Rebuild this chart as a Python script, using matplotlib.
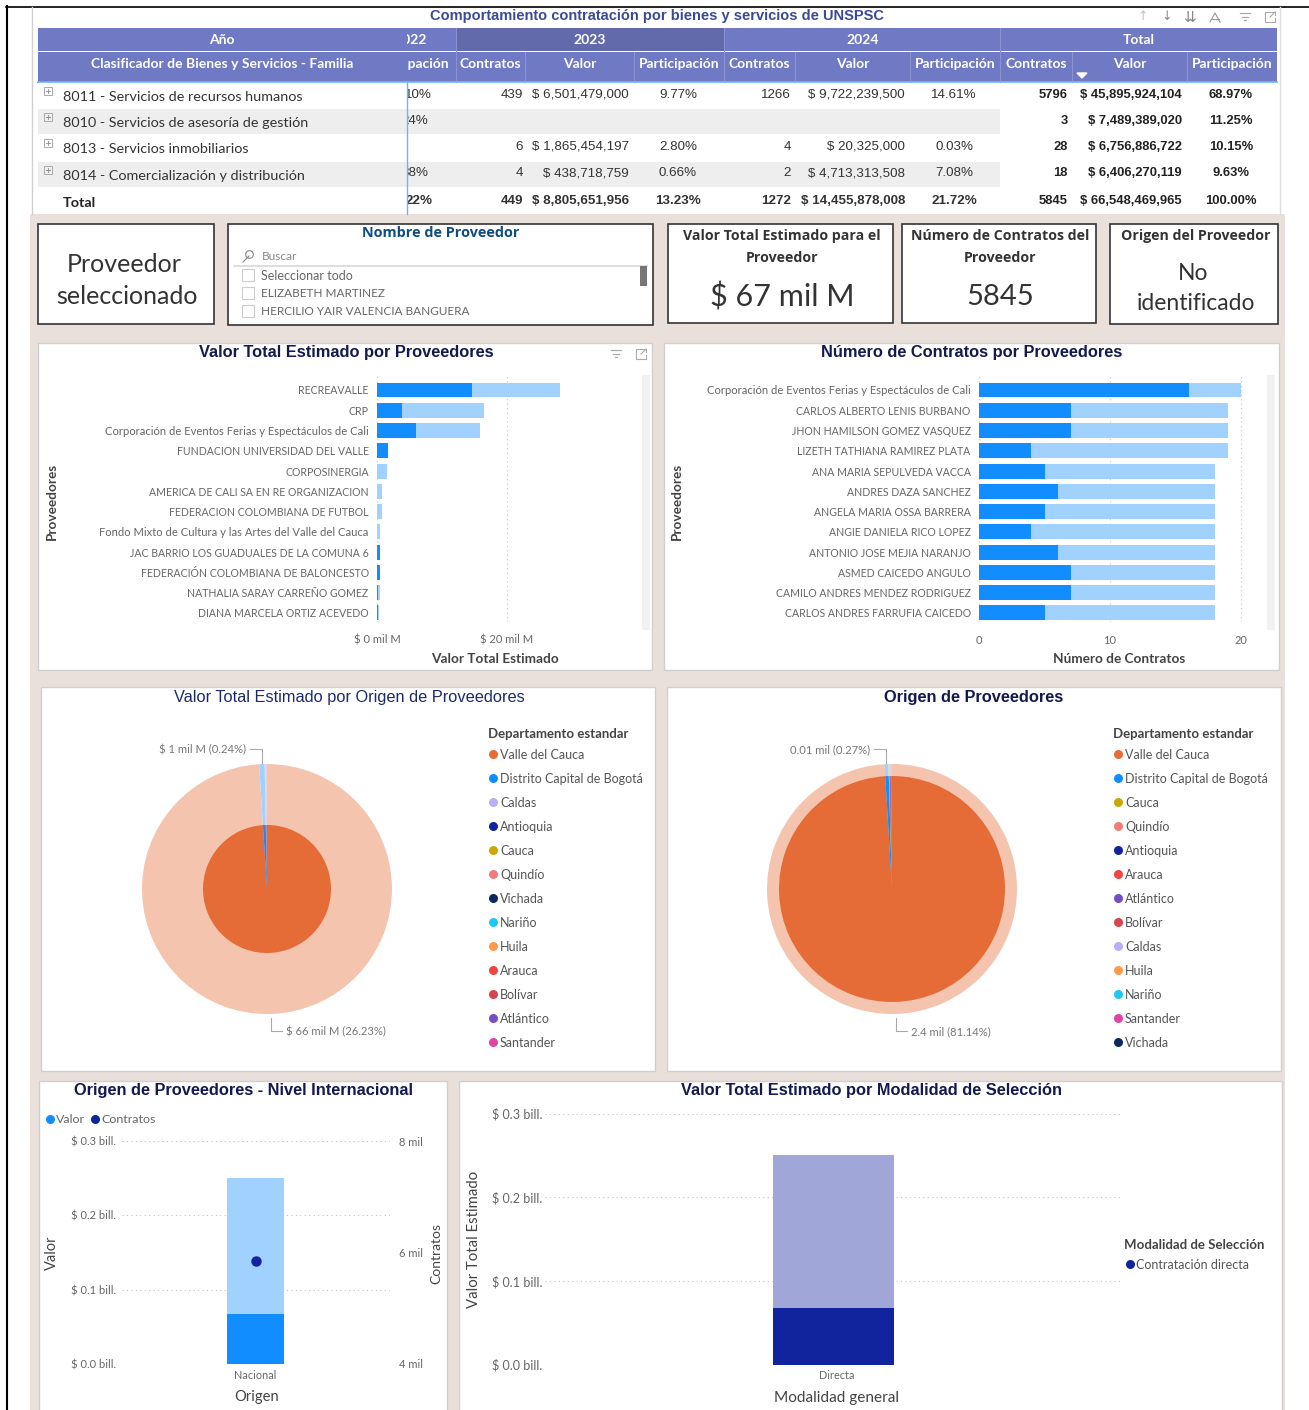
import matplotlib
matplotlib.use("Agg")
import matplotlib.pyplot as plt
from matplotlib.patches import Rectangle
from matplotlib.colors import to_rgb

W, H = 1309, 1410
SANS = ["Lato", "DejaVu Sans"]
ARIAL = ["Liberation Sans", "DejaVu Sans"]
OPEN = ["Open Sans", "DejaVu Sans"]
plt.rcParams["font.family"] = SANS

BLUE = "#118DFF"
LIGHT = "#A0D1FF"
NAVY = "#12239E"
BG = "#E9E0DB"
TITLE = "#14194F"
GREY = "#666666"

# table data
anios = ["2023", "2024", "Total"]
sub_cols = ["Contratos", "Valor", "Participación"]
familias = ["8011 - Servicios de recursos humanos", "8010 - Servicios de asesoría de gestión",
            "8013 - Servicios inmobiliarios", "8014 - Comercialización y distribución", "Total"]
part_2022 = ["10%", "24%", "", "38%", "22%"]
contratos_23 = ["439", "", "6", "4", "449"]
valor_23 = ["$ 6,501,479,000", "", "$ 1,865,454,197", "$ 438,718,759", "$ 8,805,651,956"]
part_23 = ["9.77%", "", "2.80%", "0.66%", "13.23%"]
contratos_24 = ["1266", "", "4", "2", "1272"]
valor_24 = ["$ 9,722,239,500", "", "$ 20,325,000", "$ 4,713,313,508", "$ 14,455,878,008"]
part_24 = ["14.61%", "", "0.03%", "7.08%", "21.72%"]
contratos_tot = ["5796", "3", "28", "18", "5845"]
valor_tot = ["$ 45,895,924,104", "$ 7,489,389,020", "$ 6,756,886,722", "$ 6,406,270,119", "$ 66,548,469,965"]
part_tot = ["68.97%", "11.25%", "10.15%", "9.63%", "100.00%"]

# bars, valor por proveedor (mil M)
prov_valor = ["RECREAVALLE", "CRP", "Corporación de Eventos Ferias y Espectáculos de Cali",
              "FUNDACION UNIVERSIDAD DEL VALLE", "CORPOSINERGIA", "AMERICA DE CALI SA EN RE ORGANIZACION",
              "FEDERACION COLOMBIANA DE FUTBOL", "Fondo Mixto de Cultura y las Artes del Valle del Cauca",
              "JAC BARRIO LOS GUADUALES DE LA COMUNA 6", "FEDERACIÓN COLOMBIANA DE BALONCESTO",
              "NATHALIA SARAY CARREÑO GOMEZ", "DIANA MARCELA ORTIZ ACEVEDO"]
valor_oscuro = [14.7, 3.9, 6.0, 1.65, 0, 0, 0, 0, 0.4, 0.5, 0.1, 0.1]
valor_claro = [13.5, 12.6, 9.8, 0, 1.55, 0.8, 0.7, 0.5, 0, 0, 0.3, 0.2]

# bars, contratos por proveedor
prov_contratos = ["Corporación de Eventos Ferias y Espectáculos de Cali", "CARLOS ALBERTO LENIS BURBANO",
                  "JHON HAMILSON GOMEZ VASQUEZ", "LIZETH TATHIANA RAMIREZ PLATA", "ANA MARIA SEPULVEDA VACCA",
                  "ANDRES DAZA SANCHEZ", "ANGELA MARIA OSSA BARRERA", "ANGIE DANIELA RICO LOPEZ",
                  "ANTONIO JOSE MEJIA NARANJO", "ASMED CAICEDO ANGULO", "CAMILO ANDRES MENDEZ RODRIGUEZ",
                  "CARLOS ANDRES FARRUFIA CAICEDO"]
contratos_oscuro = [16, 7, 7, 4, 5, 6, 5, 4, 6, 7, 7, 5]
contratos_claro = [4, 12, 12, 15, 13, 12, 13, 14, 12, 11, 11, 13]

# pies
dep1 = ["Valle del Cauca", "Distrito Capital de Bogotá", "Caldas", "Antioquia", "Cauca", "Quindío", "Vichada",
        "Nariño", "Huila", "Arauca", "Bolívar", "Atlántico", "Santander"]
col1 = ["#E66C37", "#118DFF", "#B9AFF5", "#12239E", "#C9A800", "#F27C7C", "#0B2A5B",
        "#1EC8F0", "#FF9A4D", "#F04545", "#D64550", "#744EC2", "#E044A7"]
val1 = [100, 0.72, 0.08, 0.03, 0.03, 0.02, 0.02, 0.02, 0.02, 0.02, 0.02, 0.02, 0.02]
dep2 = ["Valle del Cauca", "Distrito Capital de Bogotá", "Cauca", "Quindío", "Antioquia", "Arauca", "Atlántico",
        "Bolívar", "Caldas", "Huila", "Nariño", "Santander", "Vichada"]
col2 = ["#E66C37", "#118DFF", "#C9A800", "#F27C7C", "#12239E", "#F04545", "#744EC2",
        "#D64550", "#B9AFF5", "#FF9A4D", "#1EC8F0", "#E044A7", "#0B2A5B"]
val2 = [100, 0.5, 0.1, 0.06, 0.06, 0.03, 0.03, 0.03, 0.03, 0.03, 0.03, 0.03, 0.03]

# bottom charts
origen = ["Nacional"]
origen_oscuro = [0.067]
origen_claro = [0.183]
origen_contratos = [5845]
modalidad = ["Directa"]
modalidad_oscuro = [0.067]
modalidad_claro = [0.183]

fig = plt.figure(figsize=(W / 100, H / 100), dpi=100, facecolor="white")
bg = fig.add_axes([0, 0, 1, 1])
bg.set_xlim(0, W)
bg.set_ylim(H, 0)
bg.axis("off")


def rect(x0, y0, x1, y1, fc="white", ec="none", lw=1, z=1):
    bg.add_patch(Rectangle((x0, y0), x1 - x0, y1 - y0, fc=fc, ec=ec, lw=lw, zorder=z))


def txt(x, y, s, size=8, color=GREY, ha="center", weight="normal", fam=SANS, rot=0, clip=False):
    t = bg.text(x, y + (0 if rot else 1), s, fontsize=size, color=color, ha=ha, va="center", fontweight=weight,
                family=fam, rotation=rot, zorder=5)
    if clip:
        t.set_clip_path(Rectangle((407, 0), 1000, H, transform=bg.transData))
        t.set_clip_on(True)
    return t


def panel_axes(x0, y0, x1, y1):
    ax = fig.add_axes([x0 / W, 1 - y1 / H, (x1 - x0) / W, (y1 - y0) / H])
    ax.patch.set_alpha(0)
    for s in ax.spines.values():
        s.set_visible(False)
    return ax


def tint(c, a=0.4):
    return tuple(a * v + (1 - a) for v in to_rgb(c))


def filter_icon(x, y):
    for i, half in enumerate([5, 3, 1]):
        bg.plot([x - half, x + half], [y - 4 + i * 3.5] * 2, color="#AAAAAA", lw=0.9, zorder=5)


def focus_icon(x, y):
    bg.plot([x - 1, x - 5, x - 5, x + 5, x + 5], [y - 5, y - 5, y + 5, y + 5, y + 1], color="#AAAAAA", lw=0.8, zorder=5)
    bg.plot([x, x + 5, x + 5], [y - 5, y - 5, y - 2], color="#AAAAAA", lw=0.8, zorder=5)
    bg.plot([x + 5, x], [y - 5, y], color="#AAAAAA", lw=0.8, zorder=5)


def grid_style(ax, axis):
    ax.grid(axis=axis, ls=(0, (1, 3)), color="#C4C4C4", lw=0.8, zorder=0)
    ax.set_axisbelow(True)


# page frame and background
rect(30, 214, 1285, H, fc=BG)
bg.plot([6.5, 6.5], [6, H], color="black", lw=1.5, zorder=6)
bg.plot([6, 1284], [6.5, 6.5], color="black", lw=1.2, zorder=6)
bg.plot([1285, W], [7, 7], color="black", lw=1.2, zorder=6)
bg.plot([32, 32], [7, 214], color="#D0D0D0", lw=1, zorder=6)
bg.plot([1280, 1280], [7, 214], color="#DDDDDD", lw=1, zorder=6)

# table
txt(657.5, 15, "Comportamiento contratación por bienes y servicios de UNSPSC", 10.5, "#3B4A96", weight="bold", fam=ARIAL)
txt(1143, 16, "↑", 9, "#C4C4C4", fam=["DejaVu Sans"])
txt(1167, 16, "↓", 9, "#888888", fam=["DejaVu Sans"])
txt(1190, 16, "⇊", 11, "#888888", fam=["DejaVu Sans"])
bg.plot([1210, 1215, 1220], [22, 13, 22], color="#999999", lw=0.8, zorder=5)
bg.plot([1211, 1219], [19, 19], color="#999999", lw=0.8, zorder=5)
filter_icon(1245, 17)
focus_icon(1270, 17)

HEAD = "#7079C4"
col_edges = [407, 456, 525, 634, 724, 795, 910, 1000, 1072, 1187, 1277]
rect(38, 28, 1277, 51, fc=HEAD)
rect(38, 52, 1277, 82, fc=HEAD)
rect(456, 28, 724, 51, fc="#636AAB", z=2)
for xe in [456, 724, 1000]:
    bg.plot([xe, xe], [28, 51], color="#8A91D0", lw=0.8, zorder=3)
for xe in col_edges[1:-1]:
    bg.plot([xe, xe], [52, 82], color="#8A91D0", lw=0.8, zorder=3)
bg.plot([38, 1277], [82, 82], color="#6FB4F5", lw=1.2, zorder=3)
txt(222, 39, "Año", 10, "white", weight="bold")
txt(222, 63.5, "Clasificador de Bienes y Servicios - Familia", 10, "white", weight="bold")
txt(411, 39, "2022", 10, "white", weight="bold", clip=True)
txt(450, 63.5, "Participación", 10, "white", ha="right", weight="bold", clip=True)
for xc, s in zip([590, 863, 1139], anios):
    txt(xc, 39, s, 10, "white", weight="bold")
lefts = col_edges[1:]
for k, s in enumerate(sub_cols * 3):
    txt((lefts[k] + lefts[k + 1]) / 2, 63.5, s, 10, "white", weight="bold")
bg.fill([1077, 1087, 1082], [73, 73, 78], color="white", zorder=5)

row_edges = [82, 109, 135, 162, 188, 214]
for i in [1, 3]:
    rect(38, row_edges[i], 1000, row_edges[i + 1] - 1, fc="#EEEEEE")
label_y = [96, 122, 148, 175, 202]
value_y = [93.5, 119.5, 145.5, 172, 199.5]
part_right = [432, 428, 428, 428, 432]
for i, fam_name in enumerate(familias):
    total = i == 4
    w = "bold" if total else "normal"
    txt(63, label_y[i], fam_name, 10.4, "#333333" if not total else "#222222", ha="left", weight=w)
    if not total:
        rect(44, label_y[i] - 9, 52, label_y[i] - 1, fc="none", ec="#AAAAAA", lw=0.7, z=5)
        bg.plot([46, 50], [label_y[i] - 5] * 2, color="#888888", lw=0.6, zorder=5)
        bg.plot([48, 48], [label_y[i] - 7, label_y[i] - 3], color="#888888", lw=0.6, zorder=5)
    vals = [(523, contratos_23[i], "right"), (629, valor_23[i], "right"), (678, part_23[i], "center"),
            (791, contratos_24[i], "right"), (905, valor_24[i], "right"), (954, part_24[i], "center")]
    txt(part_right[i], value_y[i], part_2022[i], 9.6, "#333333", ha="right", weight=w, fam=ARIAL, clip=True)
    for xv, s, ha in vals:
        txt(xv, value_y[i], s, 9.6, "#333333", ha=ha, weight=w, fam=ARIAL)
    txt(1068, value_y[i], contratos_tot[i], 9.4, "#222222", ha="right", weight="bold", fam=ARIAL)
    txt(1182, value_y[i], valor_tot[i], 9.4, "#222222", ha="right", weight="bold", fam=ARIAL)
    txt(1231, value_y[i], part_tot[i], 9.4, "#222222", weight="bold", fam=ARIAL)
bg.plot([407, 407], [82, 214], color="#6FB4F5", lw=1, zorder=6)

# cards row
for box in [(38, 224, 214, 324), (228, 224, 653, 325), (668, 224, 893, 323), (902, 224, 1096, 323), (1110, 224, 1278, 324)]:
    rect(*box, fc="white", ec="#333333", lw=1.2, z=2)
txt(124.5, 263, "Proveedor", 18, "#333333")
txt(127, 295, "seleccionado", 18, "#333333")
txt(441, 232, "Nombre de Proveedor", 10.4, "#0F4C81", weight="bold", fam=OPEN)
bg.plot([243, 249], [262, 256], color="#888888", lw=0.8, zorder=5)
bg.plot([249], [254], "o", ms=5.5, mfc="none", mec="#888888", mew=0.8, zorder=5)
txt(262, 256, "Buscar", 8.6, "#888888", ha="left")
bg.plot([234, 647], [265.5, 265.5], color="#D8D8D8", lw=1.2, zorder=5)
rect(640, 266, 647, 286, fc="#777777", z=5)
for yi, s, fs in zip([275, 293, 311], ["Seleccionar todo", "ELIZABETH MARTINEZ", "HERCILIO YAIR VALENCIA BANGUERA"], [9, 8.5, 8.5]):
    rect(242, yi - 6, 254, yi + 6, fc="white", ec="#CCCCCC", lw=0.8, z=5)
    txt(261, yi - 0.5, s, fs, "#666666", ha="left")
txt(782, 235, "Valor Total Estimado para el", 10.2, "#333333", weight="bold", fam=OPEN)
txt(782, 257, "Proveedor", 10.2, "#333333", weight="bold", fam=OPEN)
txt(782, 296, "$ 67 mil M", 22, "#333333")
txt(1000, 235, "Número de Contratos del", 10.2, "#333333", weight="bold", fam=OPEN)
txt(1000, 257, "Proveedor", 10.2, "#333333", weight="bold", fam=OPEN)
txt(1000, 296, "5845", 21, "#333333")
txt(1196, 235, "Origen del Proveedor", 10.2, "#333333", weight="bold", fam=OPEN)
txt(1193, 273, "No", 16.5, "#333333")
txt(1196, 303, "identificado", 16.5, "#333333")

# chart panels
for box in [(38, 343, 652, 670), (664, 343, 1279, 670), (41, 687, 655, 1071), (667, 687, 1281, 1071),
            (39, 1081, 447, 1420), (459, 1081, 1282, 1420)]:
    rect(*box, fc="white", ec="#CFCFCF", lw=1, z=2)


def hbars(box, labels, dark, light, xlim, ticks, tick_labels):
    ax = panel_axes(*box)
    y = range(len(labels))
    ax.barh(y, dark, height=0.74, color=BLUE, zorder=3)
    ax.barh(y, light, left=dark, height=0.74, color=LIGHT, zorder=3)
    ax.set_xlim(*xlim)
    ax.set_ylim((box[3] - 390) / 20.27, (box[1] - 390) / 20.27)
    ax.set_yticks(list(y))
    ax.set_yticklabels(labels, fontsize=8.1, color=GREY)
    # capitals run wide in Lato
    for t in ax.get_yticklabels():
        if t.get_text().isupper():
            t.set_fontsize(7.6)
    ax.set_xticks(ticks)
    ax.set_xticklabels(tick_labels, fontsize=8, color=GREY)
    ax.tick_params(length=0, axis="y", pad=6)
    ax.tick_params(length=0, axis="x", pad=9)
    grid_style(ax, "x")
    return ax


hbars((377, 374, 640, 622), prov_valor, valor_oscuro, valor_claro, (0, 263 / 6.49), [0, 20], ["$ 0 mil M", "$ 20 mil M"])
hbars((979, 374, 1262, 622), prov_contratos, contratos_oscuro, contratos_claro, (0, 283 / 13.1), [0, 10, 20], ["0", "10", "20"])
txt(346, 352, "Valor Total Estimado por Proveedores", 11.8, TITLE, weight="bold", fam=ARIAL)
txt(972, 352, "Número de Contratos por Proveedores", 11.8, TITLE, weight="bold", fam=ARIAL)
filter_icon(616, 354)
focus_icon(641, 354)
txt(495, 658, "Valor Total Estimado", 9.8, "#444444", weight="bold")
txt(1119, 658, "Número de Contratos", 9.8, "#444444", weight="bold")
txt(52, 501, "Proveedores", 9.8, "#444444", weight="bold", rot=90)
txt(677, 501, "Proveedores", 9.8, "#444444", weight="bold", rot=90)
rect(642, 375, 650, 630, fc="#F1F1F1", z=3)
rect(1267, 375, 1275, 630, fc="#F1F1F1", z=3)


def dona(cx, cy, r_inner, values, colors):
    ax = panel_axes(cx - 126, cy - 126, cx + 126, cy + 126)
    wp = dict(lw=0)
    ax.pie(values, colors=[tint(c) for c in colors], radius=125, startangle=90, counterclock=False, wedgeprops=wp)
    ax.pie(values, colors=colors, radius=r_inner, startangle=90, counterclock=False, wedgeprops=wp)
    ax.set_xlim(-126, 126)
    ax.set_ylim(-126, 126)


def legend(x, names, colors):
    txt(x - 5, 733, "Departamento estandar", 9.5, "#444444", ha="left", weight="bold")
    rows = [754, 778, 802, 826, 850, 874, 898, 922, 946, 970, 994, 1018, 1042]
    for yi, n, c in zip(rows, names, colors):
        bg.plot([x - 0.5], [yi], "o", ms=6.5, color=c, mew=0, zorder=5)
        txt(x + 7, yi, n, 9, "#555555", ha="left")


dona(267, 889, 64, val1, col1)
dona(892, 889, 113, val2, col2)
legend(493, dep1, col1)
legend(1118, dep2, col2)
txt(349.5, 696.5, "Valor Total Estimado por Origen de Proveedores", 11.8, "#1C2A6B", fam=ARIAL)
txt(974, 696.5, "Origen de Proveedores", 11.8, TITLE, weight="bold", fam=ARIAL)
txt(202.5, 748.5, "$ 1 mil M (0.24%)", 8.1, "#777777")
bg.plot([250, 262, 262], [749, 749, 763], color="#AAAAAA", lw=0.8, zorder=5)
txt(335.5, 1031, "$ 66 mil M (26.23%)", 8.1, "#777777")
bg.plot([271, 271, 282], [1018, 1031, 1031], color="#AAAAAA", lw=0.8, zorder=5)
txt(830.5, 748.5, "0.01 mil (0.27%)", 8.1, "#777777")
bg.plot([874, 886, 886], [749, 749, 763], color="#AAAAAA", lw=0.8, zorder=5)
txt(950.5, 1031, "2.4 mil (81.14%)", 8.1, "#777777")
bg.plot([896, 896, 907], [1018, 1031, 1031], color="#AAAAAA", lw=0.8, zorder=5)

# origen internacional
ax = panel_axes(121.5, 1141, 389.5, 1364)
ax.bar(origen, origen_oscuro, width=0.209, color=BLUE, zorder=3)
ax.bar(origen, origen_claro, bottom=origen_oscuro, width=0.209, color=LIGHT, zorder=3)
ax.set_xlim(-0.5, 0.5)
ax.set_ylim(0, 0.3)
ax.set_yticks([0, 0.1, 0.2, 0.3])
ax.set_yticklabels(["$ 0.0 bill.", "$ 0.1 bill.", "$ 0.2 bill.", "$ 0.3 bill."], fontsize=8, color=GREY)
ax.tick_params(length=0, pad=4)
ax.tick_params(axis="x", labelsize=7.8, labelcolor=GREY, pad=4)
grid_style(ax, "y")
ax2 = ax.twinx()
ax2.patch.set_alpha(0)
for s in ax2.spines.values():
    s.set_visible(False)
ax2.plot(origen, origen_contratos, "o", color=NAVY, ms=6.5, zorder=5)
ax2.set_ylim(4000, 8000)
ax2.set_yticks([4000, 6000, 8000])
ax2.set_yticklabels(["4 mil", "6 mil", "8 mil"], fontsize=8, color=GREY)
ax2.tick_params(length=0, pad=7)
txt(243.5, 1089.5, "Origen de Proveedores - Nivel Internacional", 11.8, TITLE, weight="bold", fam=ARIAL)
bg.plot([49.5], [1119], "o", ms=6.5, color=BLUE, mew=0, zorder=5)
txt(56, 1118.5, "Valor", 8.9, "#666666", ha="left")
bg.plot([95], [1119], "o", ms=6.5, color=NAVY, mew=0, zorder=5)
txt(101.5, 1118.5, "Contratos", 8.9, "#666666", ha="left")
txt(52, 1253, "Valor", 10.5, "#444444", rot=90)
txt(436.5, 1253, "Contratos", 10, "#444444", rot=90)
txt(256.5, 1396, "Origen", 10.6, "#444444")

# modalidad
ax = panel_axes(545, 1113.5, 1122, 1364.5)
ax.bar(modalidad, modalidad_oscuro, width=0.21, color=NAVY, zorder=3)
ax.bar(modalidad, modalidad_claro, bottom=modalidad_oscuro, width=0.21, color="#A0A7D8", zorder=3)
ax.set_xlim(-0.5, 0.5)
ax.set_ylim(0, 0.3)
ax.set_yticks([0, 0.1, 0.2, 0.3])
ax.set_yticklabels(["$ 0.0 bill.", "$ 0.1 bill.", "$ 0.2 bill.", "$ 0.3 bill."], fontsize=9.1, color=GREY)
ax.tick_params(length=0, pad=2)
ax.tick_params(axis="x", labelsize=7.8, labelcolor=GREY, pad=4)
ax.set_xticks([0.006])
ax.set_xticklabels(modalidad)
grid_style(ax, "y")
txt(871.5, 1089.5, "Valor Total Estimado por Modalidad de Selección", 11.8, TITLE, weight="bold", fam=ARIAL)
txt(473.5, 1239, "Valor Total Estimado", 10.7, "#444444", rot=90)
txt(837, 1397, "Modalidad general", 11.1, "#444444")
txt(1124, 1244, "Modalidad de Selección", 9.5, "#444444", ha="left", weight="bold")
bg.plot([1130], [1264], "o", ms=6.5, color=NAVY, mew=0, zorder=5)
txt(1136, 1264, "Contratación directa", 9, "#555555", ha="left")

fig.savefig("out.png", dpi=100)
